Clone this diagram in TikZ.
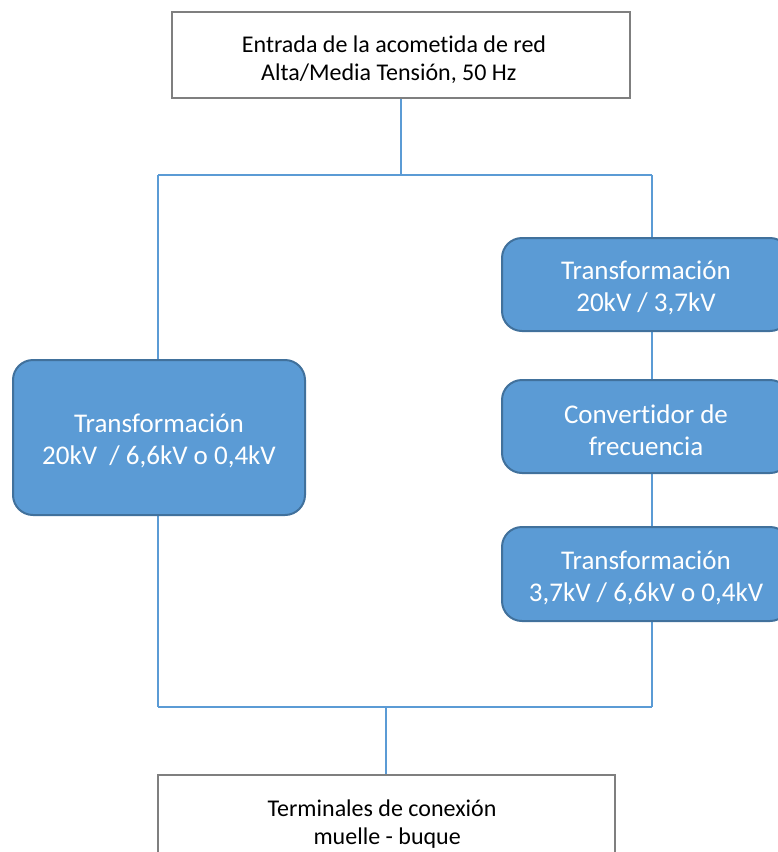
\documentclass[tikz,border=0pt]{standalone}
\usepackage{fontspec}
\setmainfont{Carlito}[Ligatures={NoCommon}]
\definecolor{boxblue}{HTML}{5B9BD5}
\definecolor{boxedge}{HTML}{41719C}
\definecolor{linkblue}{HTML}{5B9BD5}
\definecolor{framegray}{HTML}{7F7F7F}
\begin{document}
\begin{tikzpicture}[x=1pt,y=-1pt,
  whitebox/.style={draw=framegray, line width=2.5pt, fill=white, inner sep=0pt},
  blacktext/.style={align=center, inner sep=0pt, font=\fontsize{24}{28}\selectfont},
  bluebox/.style={draw=boxedge, line width=2pt, fill=boxblue, rounded corners=20pt, inner sep=0pt},
  bluetext/.style={text=white, align=center, inner sep=0pt, font=\fontsize{27}{32}\selectfont},
  thicklink/.style={draw=linkblue, line width=2.5pt},
  thinlink/.style={draw=linkblue, line width=1.3pt}]
\useasboundingbox (0,0) rectangle (778,852);
\clip (0,0) rectangle (778,852);
% boxes
\node[whitebox, minimum width=458, minimum height=86] (top) at (401,55) {};
\node[blacktext] (toptext) at (394,60) {Entrada de la acometida de red\\ \phantom{x}Alta/Media Tensión, 50 Hz\phantom{xx}};
\node[whitebox, minimum width=457, minimum height=130] (bot) at (386.5,840) {};
\node[blacktext] (bottext) at (382,824) {Terminales de conexión\\ \phantom{x}muelle - buque};
% frame coordinates
\coordinate (tl) at (158,175);
\coordinate (tm) at (401,175);
\coordinate (tr) at (652,175);
\coordinate (bl) at (158,707);
\coordinate (bm) at (386,707);
\coordinate (br) at (652,707);
% connectors (drawn before blue boxes)
\draw[thicklink] (top.south -| tm) -- (tm);
\draw[thicklink] (bm) -- (bot.north -| bm);
\draw[thinlink] (tl) -- (tr);
\draw[thinlink] (bl) -- (br);
\draw[thinlink] (tl) -- (bl);
\draw[thinlink] (tr) -- (br);
% blue boxes
\node[bluebox, minimum width=292, minimum height=155] (L) at (159,437.5) {};
\node[bluetext] (Ltext) at ([yshift=-3.5pt]L.center) {Transformación\\20kV \ / 6,6kV o 0,4kV};
\node[bluebox, minimum width=288, minimum height=93] (R1) at (646,284.5) {};
\node[bluetext] (R1text) at ([yshift=-3.5pt]R1.center) {Transformación\\20kV / 3,7kV};
\node[bluebox, minimum width=288, minimum height=93] (R2) at (646,426.5) {};
\node[bluetext] (R2text) at ([yshift=-3.5pt]R2.center) {Convertidor de\\frecuencia};
\node[bluebox, minimum width=288, minimum height=94] (R3) at (646,574) {};
\node[bluetext] (R3text) at ([yshift=-3.5pt]R3.center) {Transformación\\3,7kV / 6,6kV o 0,4kV};
\end{tikzpicture}
\end{document}
